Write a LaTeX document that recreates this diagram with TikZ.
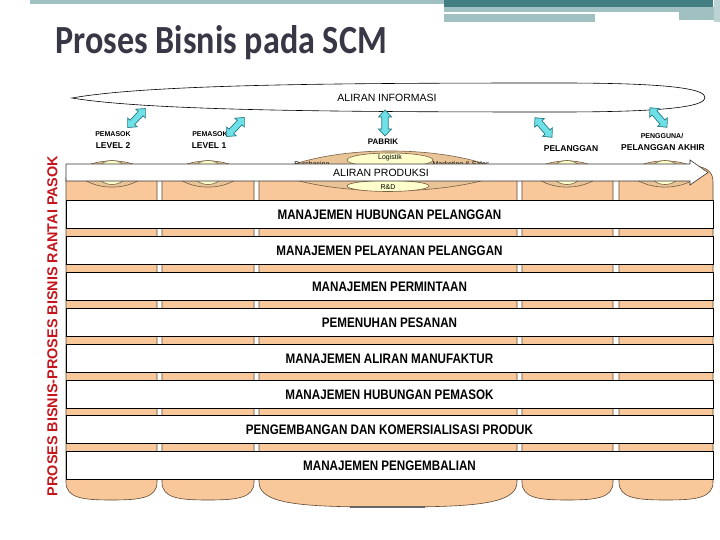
\documentclass[tikz,border=0pt]{standalone}
\usepackage{fontspec}
\setmainfont{Liberation Sans}
\newfontfamily\titlefont{Carlito}
\usepackage{graphicx}
\definecolor{peach}{RGB}{249,200,154}
\definecolor{lensfill}{RGB}{232,196,150}
\definecolor{lensline}{RGB}{120,95,70}
\definecolor{paleyel}{RGB}{255,255,204}
\definecolor{siloline}{RGB}{95,72,50}
\definecolor{darkteal}{RGB}{67,126,131}
\definecolor{lightteal}{RGB}{160,192,194}
\definecolor{titlecol}{RGB}{55,55,70}
\definecolor{redv}{RGB}{196,22,28}
\definecolor{cyanfill}{RGB}{110,225,232}
\definecolor{cyanline}{RGB}{40,120,128}
\newcommand\silocol[3]{%
  \filldraw[silo] (#1,178) -- (#1,482)
    .. controls (#1,{#3-2}) and ({#1+0.18*(#2-#1)},#3) .. ({(#1+#2)/2},#3)
    .. controls ({#2-0.18*(#2-#1)},#3) and (#2,{#3-2}) .. (#2,482)
    -- (#2,178) -- cycle;}
\newcommand\lensat[4]{% xc, halfwidth, top control, bottom control
  \filldraw[lens] ({#1-#2},172.5) .. controls ({#1-#2/2},#3) and ({#1+#2/2},#3) .. ({#1+#2},172.5)
    .. controls ({#1+#2/2},#4) and ({#1-#2/2},#4) .. cycle;}
\newcommand\dblarr[3]{%
  \filldraw[dbl, shift={(#1,#2)}, rotate=#3] (-13,0) -- (-6,6.5) -- (-6,3.2) -- (6,3.2) -- (6,6.5)
    -- (13,0) -- (6,-6.5) -- (6,-3.2) -- (-6,-3.2) -- (-6,-6.5) -- cycle;}
\newcommand\rowtxt[1]{\scalebox{0.97}[1.15]{#1}}
\begin{document}
\begin{tikzpicture}[x=1pt,y=-1pt,
  silo/.style={fill=peach, draw=siloline, line width=0.6pt},
  lens/.style={fill=lensfill, draw=lensline, line width=0.6pt},
  yel/.style={fill=paleyel, draw=lensline, line width=0.6pt},
  dbl/.style={fill=cyanfill, draw=cyanline, line width=0.7pt},
  rowbox/.style={draw=black, fill=white, line width=0.6pt, minimum width=647pt, minimum height=28pt, inner sep=0pt,
    font=\fontsize{12}{14}\selectfont\bfseries},
  lbl/.style={font=\fontsize{8.5}{10}\selectfont\bfseries, inner sep=0pt},
  slbl/.style={font=\fontsize{7}{8}\selectfont\bfseries, inner sep=0pt},
  tiny/.style={font=\fontsize{7}{8}\selectfont, inner sep=0pt}]
\useasboundingbox[fill=white] (0,0) rectangle (720,540);
% top decoration bars
\fill[lightteal] (30,0) rectangle (444,4);
\fill[darkteal] (444,0) rectangle (713,7);
\fill[lightteal] (444,7) rectangle (713,12);
\fill[lightteal] (444,14) rectangle (595,22);
\fill[lightteal] (679,7) rectangle (716,20);
\fill[lightteal!70] (714,0) rectangle (720,22);
% title
\node[anchor=base west, inner sep=0pt, text=titlecol] (title) at (55.5,54)
  {\resizebox{331pt}{28pt}{\titlefont\bfseries Proses Bisnis pada SCM}};
% vertical text
\node[rotate=90, text=redv, inner sep=0pt, font=\fontsize{14.4}{16}\selectfont\bfseries] (side) at (52.5,326)
  {PROSES BISNIS-PROSES BISNIS RANTAI PASOK};
% information ellipse
\filldraw[fill=white, draw=black, line width=0.6pt] (72,98) .. controls (150,84) and (350,83) .. (560,83)
  .. controls (680,83) and (705,90) .. (705,97.5) .. controls (705,105) and (680,112) .. (560,112)
  .. controls (350,112) and (150,111) .. (72,98) -- cycle;
\node[font=\fontsize{10.5}{12}\selectfont, inner sep=0pt] (info) at (387,97.5) {ALIRAN INFORMASI};
% labels
\node[slbl] (p2a) at (113,134) {PEMASOK};
\node[lbl] (p2b) at (113,146) {LEVEL 2};
\node[slbl] (p1a) at (210,134) {PEMASOK};
\node[lbl] (p1b) at (209,146) {LEVEL 1};
\node[font=\fontsize{8}{9}\selectfont\bfseries, inner sep=0pt] (pabrik) at (383,142) {PABRIK};
\node[lbl] (pel) at (571,149) {PELANGGAN};
\node[slbl] (peng) at (662,136) {PENGGUNA/};
\node[lbl] (pelak) at (663,148) {PELANGGAN AKHIR};
% double arrows
\dblarr{136.5}{118}{47}
\dblarr{235.5}{127}{47}
\dblarr{385}{123}{90}
\dblarr{543.5}{127.5}{-49}
\dblarr{658.5}{117.5}{-49}
% silo columns
\silocol{66}{157}{500}
\silocol{162}{254}{500}
\silocol{259}{517}{507}
\silocol{522}{613}{500}
\filldraw[silo] (619,178) -- (619,166) -- (690,166) .. controls (706,166) and (713,171) .. (713,182)
  -- (713,482) .. controls (713,498) and (696,500) .. (666,500)
  .. controls (636,500) and (619,498) .. (619,482) -- cycle;
\draw[line width=2pt, draw=black!60] (350,507) -- (425,507);
% lenses
\lensat{112}{37}{157}{192}
\lensat{208}{37}{157}{192}
\lensat{390}{117}{143.8}{197}
\lensat{567}{37}{157}{192}
\lensat{665}{38}{157}{192}
\filldraw[yel] (112,172.5) ellipse [x radius=15pt, y radius=12pt];
\filldraw[yel] (208,172.5) ellipse [x radius=15pt, y radius=12pt];
\filldraw[yel] (567,172.5) ellipse [x radius=15pt, y radius=12pt];
\filldraw[yel] (665,172.5) ellipse [x radius=15pt, y radius=12pt];
\filldraw[yel] (390,160) ellipse [x radius=43pt, y radius=7pt];
\filldraw[yel] (388,186) ellipse [x radius=41pt, y radius=5.5pt];
\node[tiny] (logistik) at (390,158) {Logistik};
\node[tiny] (rnd) at (388,187) {R\&D};
\node[tiny, anchor=north] (purch) at (312,161.5) {Purchasing};
\node[tiny, anchor=north] (mkt) at (461,161.5) {Marketing \& Sales};
% production flow band
\filldraw[fill=white, draw=black!80, line width=0.6pt] (66,164) -- (690,164) -- (690,160) -- (708,172.5)
  -- (690,185) -- (690,181) -- (66,181) -- cycle;
\node[font=\fontsize{10.5}{12}\selectfont, inner sep=0pt] (prod) at (381,172.5) {ALIRAN PRODUKSI};
% process rows
\node[rowbox] (r1) at (389.5,214.5) {\rowtxt{MANAJEMEN HUBUNGAN PELANGGAN}};
\node[rowbox] (r2) at (389.5,250.5) {\rowtxt{MANAJEMEN PELAYANAN PELANGGAN}};
\node[rowbox] (r3) at (389.5,286.5) {\rowtxt{MANAJEMEN PERMINTAAN}};
\node[rowbox] (r4) at (389.5,322.5) {\rowtxt{PEMENUHAN PESANAN}};
\node[rowbox] (r5) at (389.5,358.5) {\rowtxt{MANAJEMEN ALIRAN MANUFAKTUR}};
\node[rowbox] (r6) at (389.5,394.5) {\rowtxt{MANAJEMEN HUBUNGAN PEMASOK}};
\node[rowbox] (r7) at (389.5,429.5) {\rowtxt{PENGEMBANGAN DAN KOMERSIALISASI PRODUK}};
\node[rowbox] (r8) at (389.5,465.5) {\rowtxt{MANAJEMEN PENGEMBALIAN}};
\end{tikzpicture}
\end{document}
